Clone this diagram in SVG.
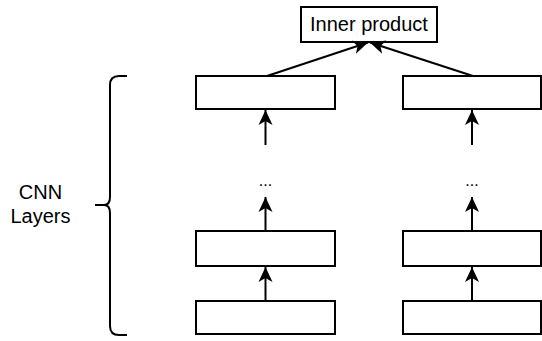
<svg xmlns="http://www.w3.org/2000/svg" width="542" height="341" viewBox="0 0 542 341">
<style>
.box{fill:#fff;stroke:#000;stroke-width:2}
.edge{fill:none;stroke:#000;stroke-width:2}
.lbl{font-family:"Liberation Sans",Arial,sans-serif;font-size:20px;fill:#000}
.dots{font-family:"Liberation Sans",Arial,sans-serif;font-size:16px;fill:#000}
</style>
<defs>
<marker id="arr" markerUnits="userSpaceOnUse" markerWidth="16" markerHeight="16" viewBox="0 0 16 16" refX="15" refY="8" orient="auto">
<path d="M15,8 L0,1 L4,8 L0,15 Z" fill="#000"/>
</marker>
</defs>
<rect width="542" height="341" fill="#fff"/>
<g id="inner-product">
<rect class="box" x="301" y="7" width="136" height="35"/>
<text class="lbl" x="369" y="31" text-anchor="middle">Inner product</text>
</g>
<g id="left-top"><rect class="box" x="196" y="76" width="139" height="33"/></g>
<g id="left-mid"><rect class="box" x="196" y="231" width="139" height="35"/></g>
<g id="left-bot"><rect class="box" x="196" y="301" width="139" height="33"/></g>
<g id="right-top"><rect class="box" x="403" y="76" width="138" height="33"/></g>
<g id="right-mid"><rect class="box" x="403" y="231" width="138" height="35"/></g>
<g id="right-bot"><rect class="box" x="403" y="301" width="138" height="33"/></g>
<g id="left-dots"><text class="dots" x="265.5" y="186" text-anchor="middle">...</text></g>
<g id="right-dots"><text class="dots" x="472" y="186" text-anchor="middle">...</text></g>
<g id="cnn-label">
<text class="lbl" x="40.5" y="199" text-anchor="middle">CNN</text>
<text class="lbl" x="40.5" y="223" text-anchor="middle">Layers</text>
</g>
<g id="brace">
<path class="edge" d="M127,76 H119 Q110,76 110,85 V197 Q110,205 104,205 H95 M104,205 Q110,205 110,213 V326 Q110,335 119,335 H127"/>
</g>
<g id="connectors">
<line class="edge" x1="267" y1="76" x2="368" y2="42.5" marker-end="url(#arr)"/>
<line class="edge" x1="473" y1="76" x2="370" y2="42.5" marker-end="url(#arr)"/>
<line class="edge" x1="265.5" y1="145" x2="265.5" y2="110" marker-end="url(#arr)"/>
<line class="edge" x1="265.5" y1="231" x2="265.5" y2="197" marker-end="url(#arr)"/>
<line class="edge" x1="265.5" y1="301" x2="265.5" y2="267" marker-end="url(#arr)"/>
<line class="edge" x1="472" y1="145" x2="472" y2="110" marker-end="url(#arr)"/>
<line class="edge" x1="472" y1="231" x2="472" y2="197" marker-end="url(#arr)"/>
<line class="edge" x1="472" y1="301" x2="472" y2="267" marker-end="url(#arr)"/>
</g>
</svg>
